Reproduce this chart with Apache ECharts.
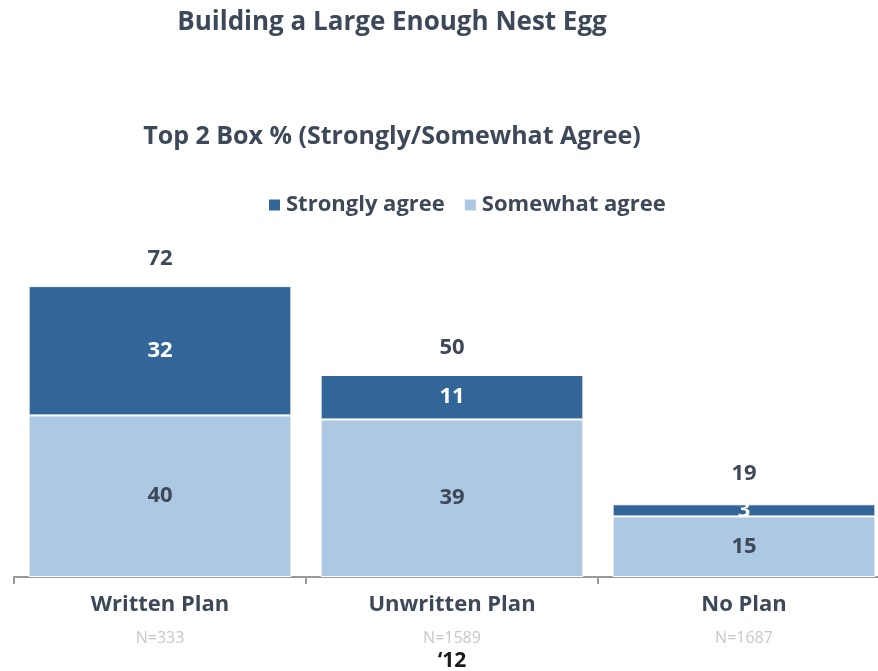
<!DOCTYPE html>
<html>
<head>
<meta charset="utf-8">
<script src="https://cdn.jsdelivr.net/npm/echarts@6/dist/echarts.min.js"></script>
<style>html,body{margin:0;padding:0;background:#fff}#c{width:878px;height:671px}</style>
</head>
<body>
<div id="c"></div>
<script>
const categories = ['Written Plan', 'Unwritten Plan', 'No Plan'];
const sampleSizes = ['N=333', 'N=1589', 'N=1687'];
const somewhatAgree = [40, 39, 15];
const stronglyAgree = [32, 11, 3];
const totals = [72, 50, 19];
const yearLabel = '\u201812';

const FONT = '"Open Sans"';
const DARK = '#3d4958';
const chart = echarts.init(document.getElementById('c'), null, {renderer: 'canvas'});
chart.setOption({
  animation: false,
  textStyle: {fontFamily: FONT},
  title: [
    {text: 'Building a Large Enough Nest Egg', left: 387, top: 5, textAlign: 'center',
     textStyle: {fontFamily: FONT, fontSize: 26, fontWeight: 'bold', color: DARK}},
    {text: 'Top 2 Box % (Strongly/Somewhat Agree)', left: 387, top: 119, textAlign: 'center',
     textStyle: {fontFamily: FONT, fontSize: 25, fontWeight: 'bold', color: DARK}}
  ],
  legend: {
    left: 262, top: 189, itemWidth: 13, itemHeight: 13, itemGap: 18,
    icon: 'rect',
    data: ['Strongly agree', 'Somewhat agree'],
    textStyle: {fontFamily: FONT, fontSize: 22, fontWeight: 'bold', color: DARK}
  },
  grid: {left: 14, top: 173, width: 876, height: 404, outerBoundsMode: 'none', containLabel: false},
  xAxis: {
    type: 'category', data: categories,
    axisLine: {lineStyle: {color: '#999', width: 2}},
    axisTick: {show: true, length: 7, lineStyle: {color: '#999', width: 2}},
    axisLabel: {
      margin: 13,
      formatter: function (v, i) { return '{a|' + v + '}\n{b|' + sampleSizes[i] + '}'; },
      rich: {
        a: {fontFamily: FONT, fontSize: 22, fontWeight: 'bold', color: DARK, lineHeight: 30},
        b: {fontFamily: FONT, fontSize: 16, color: '#c8c8c8', lineHeight: 36}
      }
    },
    name: yearLabel, nameLocation: 'middle', nameGap: 74,
    nameTextStyle: {fontFamily: FONT, fontSize: 21, fontWeight: 'bold', color: '#1a1a1a'}
  },
  yAxis: {type: 'value', min: 0, max: 100, show: false, splitLine: {show: false}},
  series: [
    {name: 'Somewhat agree', type: 'bar', stack: 't', data: somewhatAgree, barCategoryGap: '10%',
     itemStyle: {color: '#adc8e3', borderColor: '#fff', borderWidth: 1},
     label: {show: true, position: 'inside', fontFamily: FONT, fontSize: 22, fontWeight: 'bold', color: DARK}},
    {name: 'Strongly agree', type: 'bar', stack: 't', data: stronglyAgree, barCategoryGap: '10%',
     itemStyle: {color: '#326699', borderColor: '#fff', borderWidth: 1},
     label: {show: true, position: 'inside', fontFamily: FONT, fontSize: 22, fontWeight: 'bold', color: '#fff'}},
    {name: 'Total', type: 'bar', data: totals, barGap: '-100%', barCategoryGap: '10%', silent: true,
     itemStyle: {color: 'rgba(0,0,0,0)'},
     label: {show: true, position: 'top', distance: 16, fontFamily: FONT, fontSize: 22, fontWeight: 'bold', color: DARK}}
  ]
});
</script>
</body>
</html>
